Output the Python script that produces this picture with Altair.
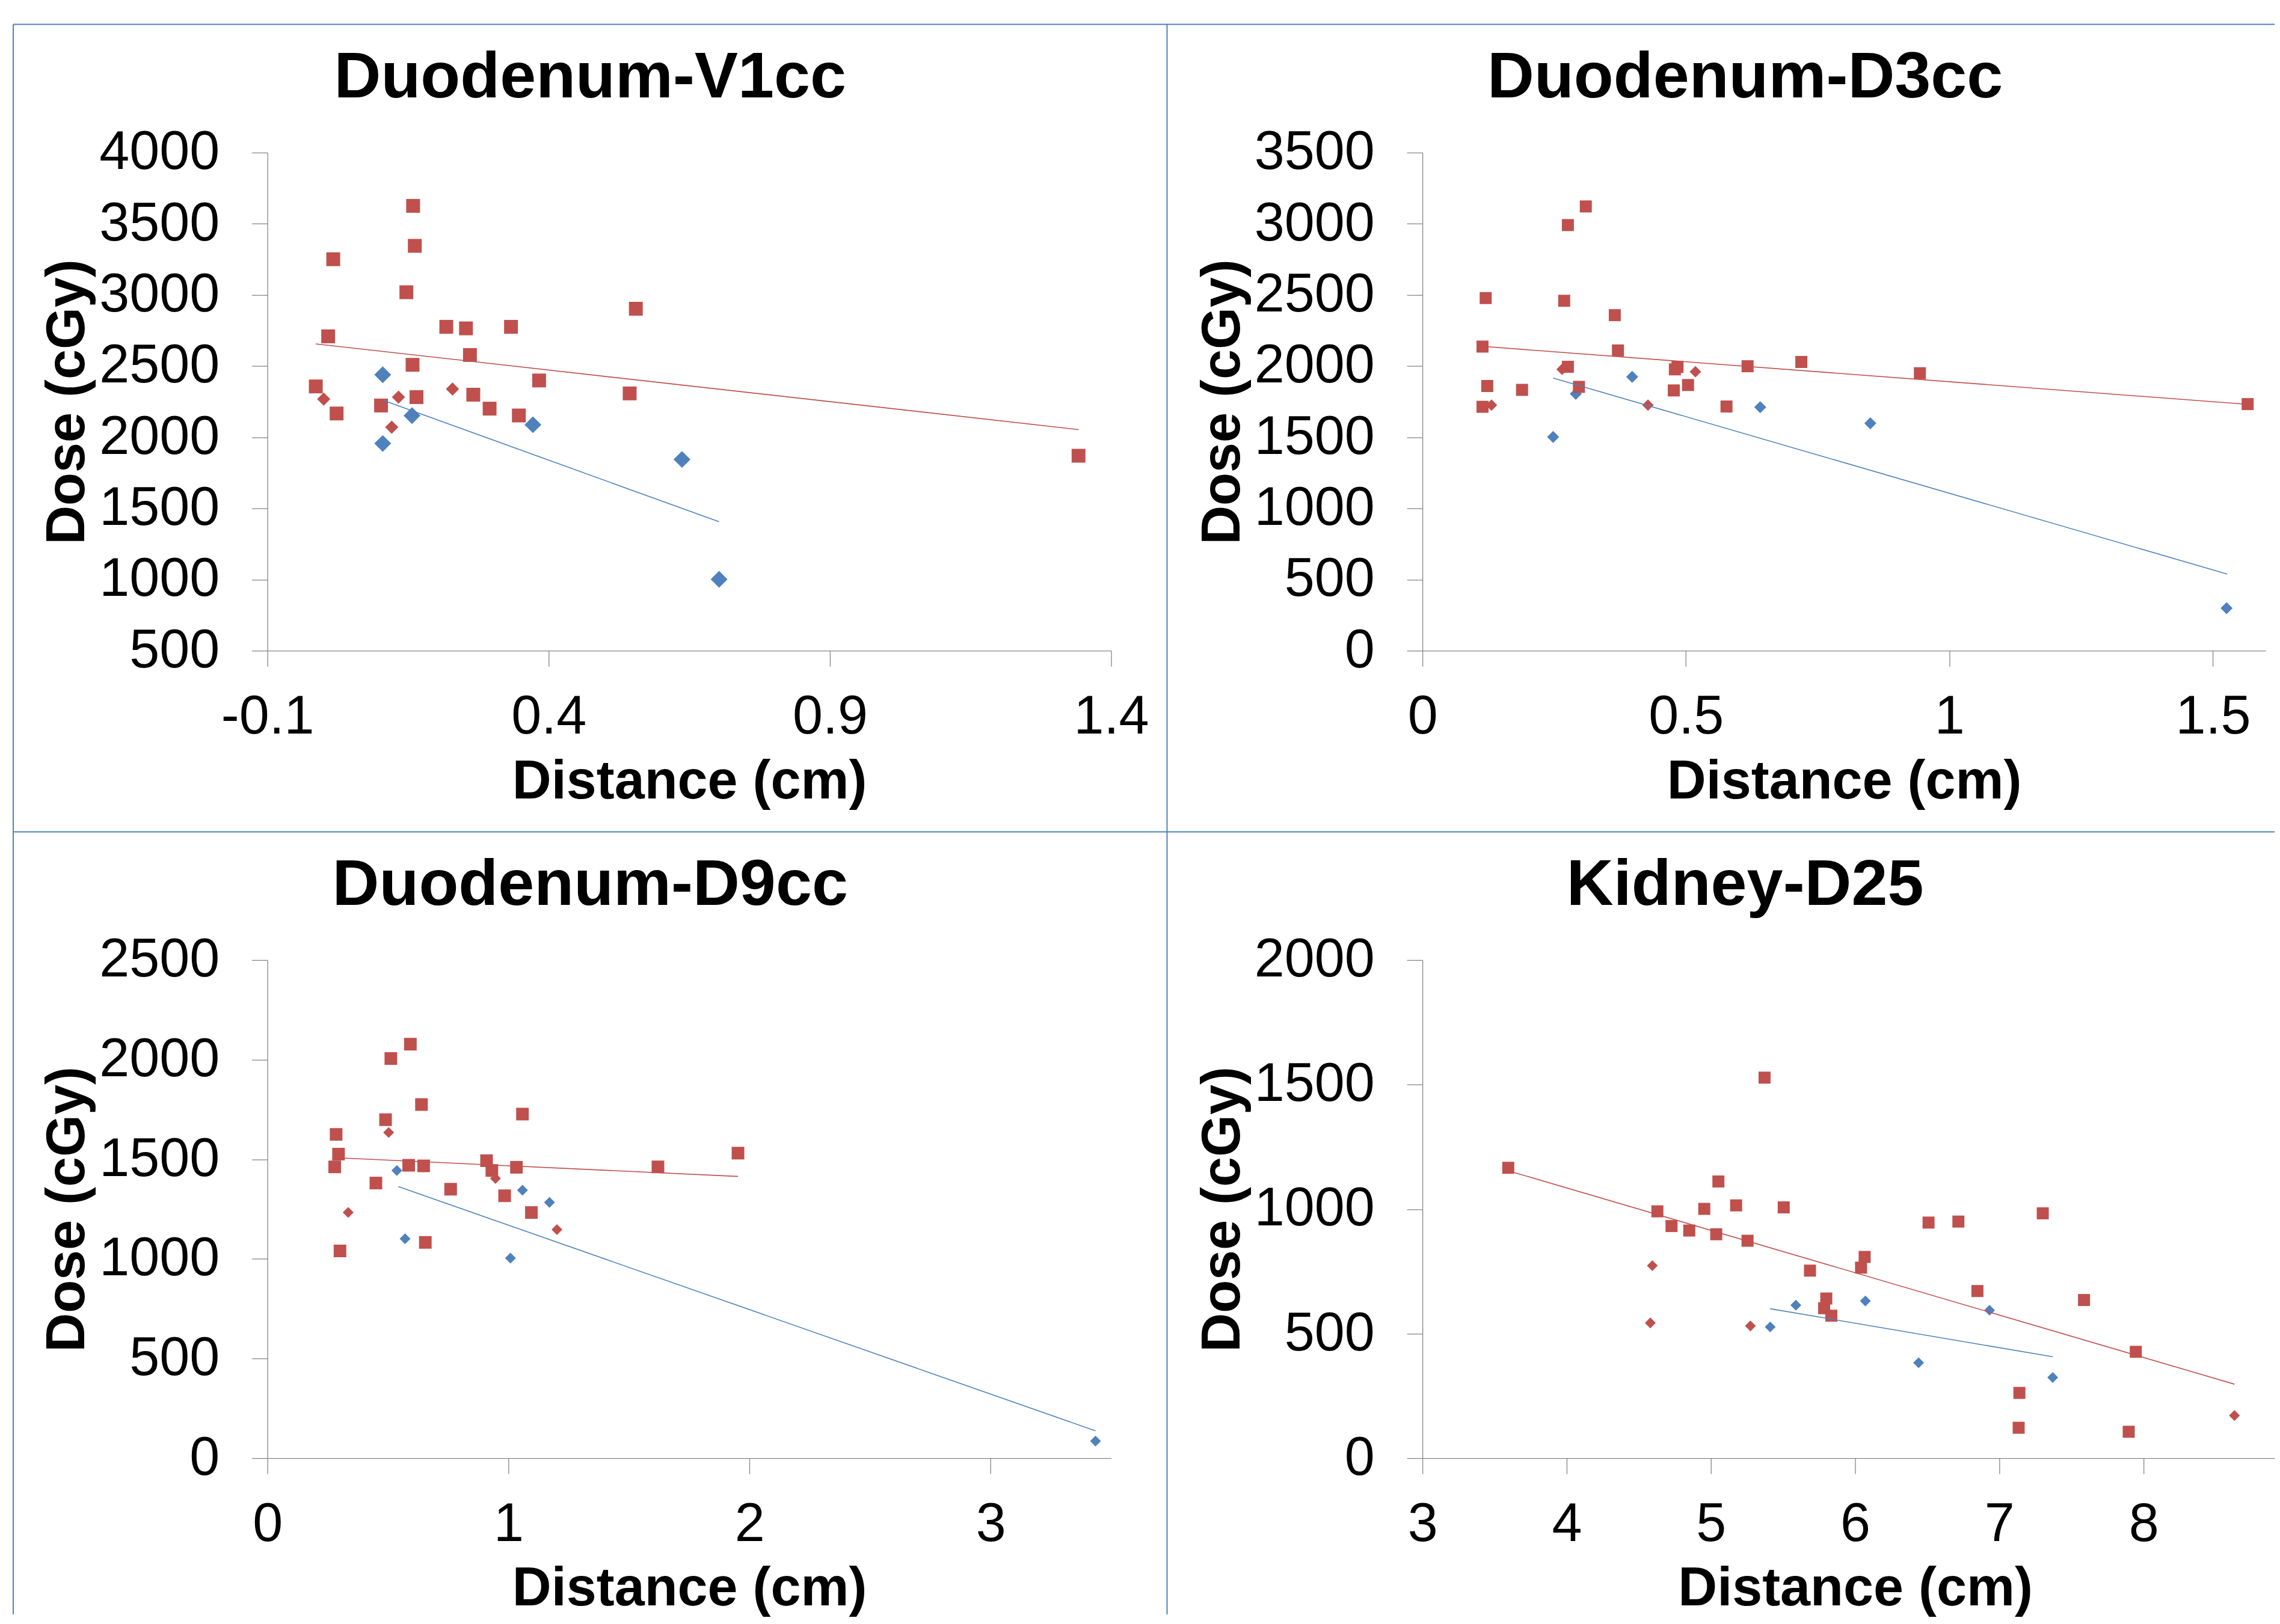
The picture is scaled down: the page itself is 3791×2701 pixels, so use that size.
import altair as alt
import pandas as pd

FONT = "Liberation Sans"
RED = "#C0504D"
BLUE = "#4F81BD"
AXC = "#868686"
FRAME = "#4F81BD"

# ---------------- Panel 1: Duodenum-V1cc ----------------
p1_title = "Duodenum-V1cc"
p1_blue_x = [0.105, 0.105, 0.157, 0.372, 0.637, 0.703]
p1_blue_y = [2439, 1956, 2152, 2088, 1844, 1002]
p1_red_x = [-0.014, 0.008, 0.017, 0.023, 0.102, 0.147, 0.158, 0.159, 0.162, 0.165, 0.218, 0.253,
            0.260, 0.266, 0.295, 0.333, 0.347, 0.383, 0.544, 0.555, 1.342]
p1_red_y = [2357, 2709, 3251, 2167, 2223, 3019, 2509, 3626, 3345, 2282, 2776, 2765,
            2578, 2299, 2201, 2776, 2153, 2399, 2308, 2903, 1870]
p1_redd_x = [0.000, 0.121, 0.133, 0.229]
p1_redd_y = [2268, 2071, 2282, 2339]
p1_trend_red_x = [-0.014, 1.342]
p1_trend_red_y = [2656, 2054]
p1_trend_blue_x = [0.105, 0.703]
p1_trend_blue_y = [2261, 1406]
p1_xticks = [-0.1, 0.4, 0.9, 1.4]
p1_yticks = [500, 1000, 1500, 2000, 2500, 3000, 3500, 4000]

# ---------------- Panel 2: Duodenum-D3cc ----------------
p2_title = "Duodenum-D3cc"
p2_blue_x = [0.248, 0.291, 0.398, 0.641, 0.850, 1.526]
p2_blue_y = [1502, 1805, 1924, 1711, 1598, 299]
p2_red_x = [0.114, 0.120, 0.123, 0.114, 0.189, 0.269, 0.276, 0.310, 0.276, 0.297, 0.365, 0.371,
            0.477, 0.479, 0.484, 0.504, 0.577, 0.617, 0.719, 0.944, 1.566]
p2_red_y = [2137, 2478, 1860, 1714, 1833, 2459, 2991, 3122, 1995, 1854, 2358, 2110,
            1829, 1977, 1994, 1867, 1716, 1999, 2029, 1950, 1733]
p2_redd_x = [0.131, 0.265, 0.428, 0.518]
p2_redd_y = [1726, 1977, 1726, 1960]
p2_trend_red_x = [0.106, 1.559]
p2_trend_red_y = [2141, 1733]
p2_trend_blue_x = [0.248, 1.527]
p2_trend_blue_y = [1916, 539]
p2_xticks = [0, 0.5, 1, 1.5]
p2_yticks = [0, 500, 1000, 1500, 2000, 2500, 3000, 3500]

# ---------------- Panel 3: Duodenum-D9cc ----------------
p3_title = "Duodenum-D9cc"
p3_blue_x = [0.537, 0.571, 1.008, 1.058, 1.170, 3.435]
p3_blue_y = [1444, 1101, 1004, 1345, 1284, 86]
p3_red_x = [0.285, 0.295, 0.279, 0.301, 0.450, 0.490, 0.512, 0.593, 0.586, 0.639, 0.648, 0.655,
            0.760, 0.909, 0.931, 0.984, 1.033, 1.058, 1.095, 1.620, 1.952]
p3_red_y = [1625, 1526, 1462, 1040, 1381, 1699, 2006, 2078, 1470, 1775, 1467, 1083,
            1350, 1493, 1444, 1317, 1460, 1727, 1233, 1462, 1531]
p3_redd_x = [0.335, 0.503, 0.946, 1.201]
p3_redd_y = [1233, 1635, 1404, 1147]
p3_trend_red_x = [0.285, 1.952]
p3_trend_red_y = [1508, 1414]
p3_trend_blue_x = [0.543, 3.435]
p3_trend_blue_y = [1363, 137]
p3_xticks = [0, 1, 2, 3]
p3_yticks = [0, 500, 1000, 1500, 2000, 2500]

# ---------------- Panel 4: Kidney-D25 ----------------
p4_title = "Kidney-D25"
p4_blue_x = [5.411, 5.589, 6.071, 6.440, 6.932, 7.370]
p4_blue_y = [527, 614, 631, 383, 594, 324]
p4_red_x = [3.595, 4.629, 4.727, 4.850, 4.954, 5.037, 5.052, 5.175, 5.254, 5.372, 5.505, 5.687, 5.800,
            5.785, 5.835, 6.041, 6.066, 6.509, 6.716, 6.848, 7.139, 7.134, 7.301, 7.587, 7.897, 7.946]
p4_red_y = [1166, 991, 932, 914, 1001, 899, 1111, 1015, 873, 1528, 1007, 753, 641,
            602, 572, 765, 808, 946, 950, 671, 262, 122, 983, 635, 106, 427]
p4_redd_x = [4.594, 4.580, 5.274, 8.630]
p4_redd_y = [773, 543, 531, 171]
p4_trend_red_x = [3.595, 8.630]
p4_trend_red_y = [1154, 297]
p4_trend_blue_x = [5.411, 7.370]
p4_trend_blue_y = [600, 407]
p4_xticks = [3, 4, 5, 6, 7, 8]
p4_yticks = [0, 500, 1000, 1500, 2000]

PLOT_H = 829


def df(xs, ys):
    return pd.DataFrame({"x": xs, "y": ys})


def panel(title, bx, by, rx, ry, dx_, dy_, trx, try_, tbx, tby,
          xdom, xticks, xfmt, xexpr, ydom, yticks, width, nominal_w, sizes, frame=False):
    xaxis_kw = dict(
        values=xticks, tickSize=26, labelPadding=40, domainColor=AXC, tickColor=AXC,
        domainWidth=1.3, tickWidth=1.3, labelFont=FONT, labelFontSize=90, labelColor="black",
        labelFlush=False, labelOverlap=False, labelLimit=600, grid=False,
        title="Distance (cm)", titleFont=FONT, titleFontSize=90, titleFontWeight="bold",
        titleColor="black", titleBaseline="alphabetic", titleY=245, titleX=nominal_w / 2,
        titleAlign="center", titleLimit=2000,
    )
    if xexpr:
        xaxis_kw["labelExpr"] = xexpr
    else:
        xaxis_kw["format"] = xfmt
    xaxis = alt.Axis(**xaxis_kw)
    yaxis = alt.Axis(
        values=yticks, format="d", tickSize=26, labelPadding=54, domainColor=AXC, tickColor=AXC,
        domainWidth=1.3, tickWidth=1.3, labelFont=FONT, labelFontSize=90, labelColor="black",
        labelOverlap=False, labelLimit=600, grid=False,
        title="Dose (cGy)", titleFont=FONT, titleFontSize=90, titleFontWeight="bold",
        titleColor="black", titleBaseline="alphabetic", titleAngle=270, titleAlign="center",
        titleX=-305, titleY=PLOT_H / 2, titleLimit=2000,
    )
    X = alt.X("x:Q", scale=alt.Scale(domain=xdom, nice=False, zero=False), axis=xaxis)
    Y = alt.Y("y:Q", scale=alt.Scale(domain=ydom, nice=False, zero=False), axis=yaxis)

    s_blue, s_red, s_redd = sizes
    layers = [
        alt.Chart(df(bx, by)).mark_point(shape="diamond", filled=True, opacity=1,
                                         size=s_blue, color=BLUE).encode(x=X, y=Y),
        alt.Chart(df(dx_, dy_)).mark_point(shape="diamond", filled=True, opacity=1,
                                           size=s_redd, color=RED).encode(x=X, y=Y),
        alt.Chart(df(rx, ry)).mark_point(shape="square", filled=True, opacity=1,
                                         size=s_red, color=RED).encode(x=X, y=Y),
        alt.Chart(df(trx, try_)).mark_line(color=RED, strokeWidth=1.6).encode(x=X, y=Y),
        alt.Chart(df(tbx, tby)).mark_line(color=BLUE, strokeWidth=1.6).encode(x=X, y=Y),
        alt.Chart(alt.Data(values=[{"k": 0}])).mark_text(
            font=FONT, fontSize=108, fontWeight="bold", color="black",
            align="center", baseline="alphabetic", text=title,
        ).encode(x=alt.value(537), y=alt.value(-92)),
    ]
    if frame:
        one = alt.Data(values=[{"k": 0}])
        L, T, MV, MH, R, B = -423, -213.5, 1497, 1130.5, 3340, 2433
        rule = dict(color=FRAME, strokeWidth=2)
        layers += [
            alt.Chart(one).mark_rule(**rule).encode(x=alt.value(L), x2=alt.value(R), y=alt.value(T)),
            alt.Chart(one).mark_rule(**rule).encode(x=alt.value(L), x2=alt.value(R), y=alt.value(MH)),
            alt.Chart(one).mark_rule(**rule).encode(x=alt.value(L), y=alt.value(T), y2=alt.value(B)),
            alt.Chart(one).mark_rule(**rule).encode(x=alt.value(MV), y=alt.value(T), y2=alt.value(B)),
        ]
    return alt.layer(*layers).properties(width=width, height=PLOT_H)


neg_expr = "datum.value < 0 ? '-' + format(-datum.value, '.1f') : format(datum.value, '.1f')"

c1 = panel(p1_title, p1_blue_x, p1_blue_y, p1_red_x, p1_red_y, p1_redd_x, p1_redd_y,
           p1_trend_red_x, p1_trend_red_y, p1_trend_blue_x, p1_trend_blue_y,
           [-0.1, 1.4], p1_xticks, None, neg_expr, [500, 4000], p1_yticks, 1404, 1404,
           (784, 529, 484), frame=True)
c2 = panel(p2_title, p2_blue_x, p2_blue_y, p2_red_x, p2_red_y, p2_redd_x, p2_redd_y,
           p2_trend_red_x, p2_trend_red_y, p2_trend_blue_x, p2_trend_blue_y,
           [0, 1.6], p2_xticks, ".1~f", None, [0, 3500], p2_yticks, 1403, 1403,
           (400, 400, 361))
c3 = panel(p3_title, p3_blue_x, p3_blue_y, p3_red_x, p3_red_y, p3_redd_x, p3_redd_y,
           p3_trend_red_x, p3_trend_red_y, p3_trend_blue_x, p3_trend_blue_y,
           [0, 3.5], p3_xticks, "d", None, [0, 2500], p3_yticks, 1404, 1404,
           (324, 441, 324))
c4 = panel(p4_title, p4_blue_x, p4_blue_y, p4_red_x, p4_red_y, p4_redd_x, p4_redd_y,
           p4_trend_red_x, p4_trend_red_y, p4_trend_blue_x, p4_trend_blue_y,
           [3, 3 + 1418 / 240], p4_xticks, "d", None, [0, 2000], p4_yticks, 1418, 1440,
           (324, 400, 324))

chart = alt.concat(
    c1, c2, c3, c4, columns=2, spacing={"row": 515, "column": 518}, bounds="flush"
).properties(
    padding={"left": 13, "top": 30, "right": 0, "bottom": 0}
).configure_view(strokeWidth=0)

chart.save("out.html", embed_options={"renderer": "svg", "actions": False})
